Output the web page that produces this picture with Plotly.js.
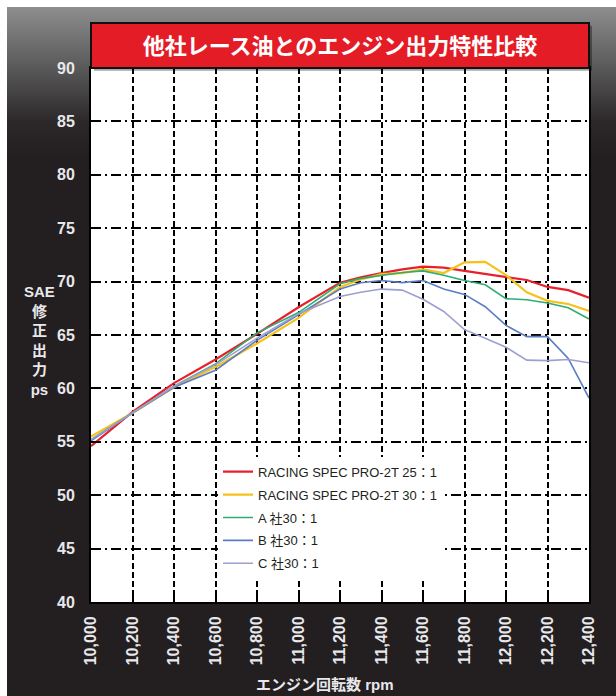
<!DOCTYPE html>
<html>
<head>
<meta charset="utf-8">
<script src="https://cdn.plot.ly/plotly-3.0.1.min.js"></script>
<style>
  html, body { margin: 0; padding: 0; background: #ffffff; }
  #bg { position: absolute; left: 7px; top: 7px; width: 609px; height: 689px;
        background: linear-gradient(to bottom, #8e8e8e 0px, #5a5a5a 60px, #2c2829 115px, #231f20 150px, #231f20 100%); }
  #chart { position: absolute; left: 0; top: 0; width: 616px; height: 696px; }
</style>
</head>
<body>
<div id="bg"></div>
<div id="chart"></div>
<script>
// ---- data ----
const chartTitle = '他社レース油とのエンジン出力特性比較';
const xTitle = 'エンジン回転数 rpm';
const yTitle = 'SAE<br>修<br>正<br>出<br>力<br>ps';

const rpm = [10000, 10200, 10400, 10600, 10800, 11000, 11200, 11300, 11400, 11500,
             11600, 11700, 11800, 11900, 12000, 12100, 12200, 12300, 12400];

const seriesNames = ['RACING SPEC PRO-2T 25：1', 'RACING SPEC PRO-2T 30：1',
                     'A 社30：1', 'B 社30：1', 'C 社30：1'];

const red25    = [54.6, 57.8, 60.5, 62.7, 65.1, 67.6, 69.9, 70.4, 70.8, 71.15,
                  71.4, 71.3, 71.0, 70.7, 70.4, 70.15, 69.5, 69.2, 68.5];
const yellow30 = [55.5, 57.7, 60.1, 62.0, 64.2, 66.6, 69.5, 70.2, 70.7, 70.8,
                  71.15, 70.8, 71.8, 71.85, 70.6, 69.0, 68.2, 67.9, 67.25];
const companyA = [55.2, 57.7, 60.2, 62.3, 65.2, 67.1, 69.8, 70.3, 70.6, 70.85,
                  71.0, 70.6, 70.1, 69.7, 68.4, 68.3, 68.0, 67.55, 66.5];
const companyB = [55.1, 57.7, 60.1, 61.7, 64.5, 66.9, 69.3, 69.9, 70.1, 69.9,
                  70.1, 69.3, 68.8, 67.65, 65.9, 64.85, 64.85, 62.8, 59.1];
const companyC = [55.2, 57.7, 60.2, 62.2, 64.7, 67.0, 68.6, 69.0, 69.3, 69.2,
                  68.35, 67.2, 65.5, 64.7, 63.85, 62.65, 62.6, 62.7, 62.4];

const xTickVals = [10000, 10200, 10400, 10600, 10800, 11000, 11200, 11400, 11600, 11800, 12000, 12200, 12400];
const xTickText = ['10,000', '10,200', '10,400', '10,600', '10,800', '11,000', '11,200',
                   '11,400', '11,600', '11,800', '12,000', '12,200', '12,400'];
const yTickVals = [40, 45, 50, 55, 60, 65, 70, 75, 80, 85, 90];

const seriesValues = [red25, yellow30, companyA, companyB, companyC];
const seriesColors = ['#e8202a', '#f7c11b', '#2eae72', '#5b7ec2', '#9d9fd0'];
const seriesWidths = [2.2, 2.2, 1.6, 1.6, 1.6];

const FONT = '"Liberation Sans", Arial, "Noto Sans CJK JP", sans-serif';
const CJK = '"Noto Sans CJK JP", "Liberation Sans", sans-serif';

const traces = seriesValues.map((vals, i) => ({
  type: 'scatter', mode: 'lines',
  x: rpm, y: vals, name: seriesNames[i],
  legendgroup: 'g' + i,
  line: { color: seriesColors[i], width: seriesWidths[i] },
  hoverinfo: 'x+y+name'
}));

const layout = {
  width: 616, height: 696,
  margin: { l: 91, r: 27, t: 68, b: 94, pad: 0 },
  paper_bgcolor: 'rgba(0,0,0,0)',
  plot_bgcolor: '#ffffff',
  showlegend: true,
  title: {
    text: chartTitle,
    font: { family: CJK, size: 22, color: '#ffffff', weight: 'bold' },
    xref: 'paper', x: 0.5, xanchor: 'center',
    yref: 'container', y: 1 - 46 / 696, yanchor: 'middle'
  },
  xaxis: {
    range: [10000, 12400],
    tickvals: xTickVals, ticktext: xTickText,
    tickangle: -90,
    tickfont: { family: FONT, size: 16, color: '#e8e8ec', weight: 'bold' },
    ticks: 'inside', ticklen: 10, tickwidth: 2, tickcolor: '#000',
    ticklabelstandoff: 6,
    showgrid: true, gridcolor: '#000', gridwidth: 2, griddash: '6px,3px',
    showline: true, linecolor: '#000', linewidth: 2, mirror: true,
    zeroline: false, fixedrange: true
  },
  yaxis: {
    range: [40, 90],
    tickvals: yTickVals,
    tickfont: { family: FONT, size: 16, color: '#e8e8ec', weight: 'bold' },
    ticks: 'inside', ticklen: 9, tickwidth: 2, tickcolor: '#000',
    ticklabelstandoff: 11,
    showgrid: true, gridcolor: '#000', gridwidth: 2, griddash: '10px,4px,2px,4px',
    showline: true, linecolor: '#000', linewidth: 2, mirror: true,
    zeroline: false, fixedrange: true
  },
  legend: {
    x: 0.255, y: 0.272, xanchor: 'left', yanchor: 'top',
    bgcolor: '#ffffff', borderwidth: 0,
    font: { family: FONT, size: 13, color: '#231f20' },
    tracegroupgap: 3, itemwidth: 30
  },
  shapes: [
    { type: 'rect', xref: 'paper', yref: 'paper',
      x0: 0.006, x1: 1.006, y0: 0.995, y1: 1 + 45 / 534 - 0.005,
      fillcolor: 'rgba(0,0,0,0.35)', line: { width: 0 }, layer: 'below' },
    { type: 'rect', xref: 'paper', yref: 'paper',
      x0: 0, x1: 1, y0: 1, y1: 1 + 45 / 534,
      fillcolor: '#e31c25', line: { color: '#111', width: 2 }, layer: 'above' }
  ],
  annotations: [
    { text: yTitle, xref: 'paper', yref: 'paper', x: (39 - 91) / 498, y: 0.49,
      xanchor: 'center', yanchor: 'middle', showarrow: false, align: 'center',
      font: { family: FONT, size: 15, color: '#e8e8ec', weight: 'bold' } },
    { text: xTitle, xref: 'paper', yref: 'paper', x: (325 - 91) / 498, y: (602 - 684) / 534,
      xanchor: 'center', yanchor: 'middle', showarrow: false,
      font: { family: FONT, size: 15, color: '#e8e8ec', weight: 'bold' } }
  ]
};

Plotly.newPlot('chart', traces, layout, { displayModeBar: false, staticPlot: false });
</script>
</body>
</html>
